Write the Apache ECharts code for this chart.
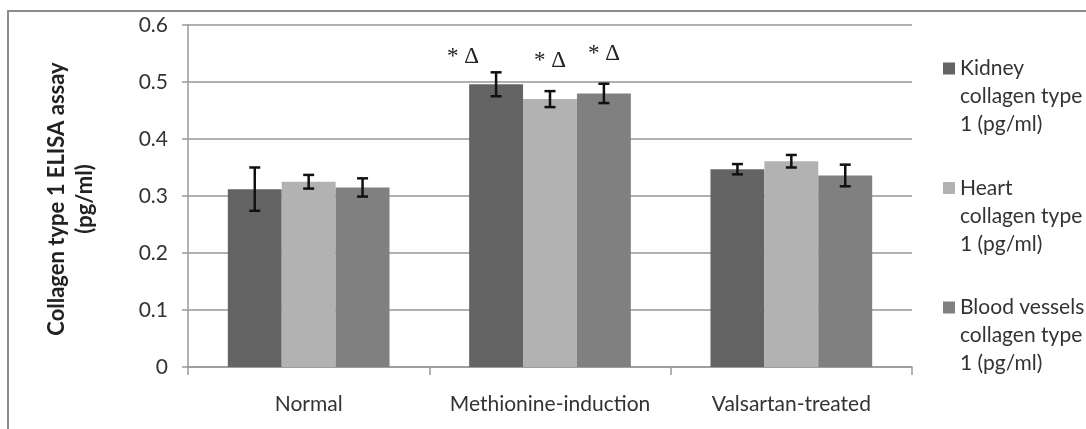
<!DOCTYPE html>
<html><head><meta charset="utf-8">
<script src="https://cdn.jsdelivr.net/npm/echarts@6/dist/echarts.min.js"></script>
<style>html,body{margin:0;padding:0;background:#fff}#c{width:1086px;height:429px}</style>
</head><body><div id="c"></div>
<script>
const categories = ['Normal', 'Methionine-induction', 'Valsartan-treated'];
const seriesNames = ['Kidney collagen type 1 (pg/ml)', 'Heart collagen type 1 (pg/ml)', 'Blood vessels collagen type 1 (pg/ml)'];
const legendLines = [['Kidney', 'collagen type', '1 (pg/ml)'], ['Heart', 'collagen type', '1 (pg/ml)'], ['Blood vessels', 'collagen type', '1 (pg/ml)']];
const yAxisTitle = 'Collagen type 1 ELISA assay\n(pg/ml)';
const kidney = [0.312, 0.496, 0.347];
const heart = [0.325, 0.470, 0.361];
const vessels = [0.315, 0.480, 0.336];
const kidneyErr = [0.038, 0.021, 0.009];
const heartErr = [0.012, 0.014, 0.011];
const vesselsErr = [0.016, 0.017, 0.019];
const yTicks = [0, 0.1, 0.2, 0.3, 0.4, 0.5, 0.6];
// significance marks over the Methionine-induction bars (kidney, heart, vessels)
const sigCategory = 1;
const sigText = ['* Δ', '* Δ', '* Δ'];
const sigY = [0.544, 0.537, 0.549];

const colors = ['#646464', '#b2b2b2', '#808080'];
const values = [kidney, heart, vessels];
const errs = [kidneyErr, heartErr, vesselsErr];
const CAT_GAP = 0.33;
const FONT = 'Lato, "Open Sans", sans-serif';
const LH = 28;

const chart = echarts.init(document.getElementById('c'), null, {renderer: 'canvas'});

function barCenter(api, catIdx, k) {
  const band = api.size([1, 0])[0];
  const barW = band * (1 - CAT_GAP) / 3;
  return api.coord([catIdx, 0])[0] + (k - 1) * barW;
}

// legend icon: 12x12 square aligned with the first text line of a 3-line block
const ICON_H = LH * 3;
const legendIcon = 'path://M0,0h0.01v0.01h-0.01Z M0,' + (LH / 2 - 6) + 'h12v12h-12Z M0,' + ICON_H + 'h0.01v-0.01h-0.01Z';

const series = [];
values.forEach((vals, k) => {
  series.push({
    name: seriesNames[k], type: 'bar', data: vals,
    barGap: '0%', barCategoryGap: (CAT_GAP * 100) + '%',
    itemStyle: {color: colors[k]}, z: 2, silent: true
  });
});
values.forEach((vals, k) => {
  series.push({
    name: 'err' + k, type: 'custom', z: 5, silent: true,
    data: vals.map((v, i) => [i, v - errs[k][i], v + errs[k][i]]),
    encode: {x: 0, y: [1, 2]},
    renderItem: function (params, api) {
      const i = api.value(0);
      const x = barCenter(api, i, k);
      const yl = api.coord([i, api.value(1)])[1];
      const yh = api.coord([i, api.value(2)])[1];
      const hw = 5.5;
      const st = {stroke: '#111', lineWidth: 2.5};
      return {type: 'group', children: [
        {type: 'line', shape: {x1: x, y1: yl, x2: x, y2: yh}, style: st},
        {type: 'line', shape: {x1: x - hw, y1: yl, x2: x + hw, y2: yl}, style: st},
        {type: 'line', shape: {x1: x - hw, y1: yh, x2: x + hw, y2: yh}, style: st}
      ]};
    }
  });
});
const sigDx = [-33, 0, 0];
series.push({
  name: 'sig', type: 'custom', z: 6, silent: true,
  data: sigY.map((y, k) => [sigCategory, y, k]),
  encode: {x: 0, y: 1},
  renderItem: function (params, api) {
    const i = api.value(0), k = api.value(2);
    const x = barCenter(api, i, k) + sigDx[k];
    const y = api.coord([i, api.value(1)])[1];
    return {type: 'text', x: x, y: y, style: {
      text: sigText[k], fill: '#222', font: '23px "Liberation Serif", "DejaVu Serif", serif',
      align: 'center', verticalAlign: 'middle'}};
  }
});

chart.setOption({
  animation: false,
  backgroundColor: '#fff',
  grid: {left: 188, right: 174, top: 25, bottom: 62, containLabel: false},
  graphic: [
    {type: 'rect', shape: {x: 8, y: 11, width: 1200, height: 600},
      style: {fill: 'none', stroke: '#8c8c8c', lineWidth: 2}, silent: true, z: -10},
    {type: 'text', x: 71, y: 199, rotation: Math.PI / 2, silent: true,
      style: {text: yAxisTitle, fill: '#222', font: 'bold 22px ' + FONT, lineHeight: 28,
        align: 'center', verticalAlign: 'middle'}}
  ],
  legend: {
    data: seriesNames, orient: 'vertical', left: 943, top: 54.5, padding: 0,
    icon: legendIcon, itemWidth: 12, itemHeight: ICON_H, itemGap: 35.5, selectedMode: false,
    formatter: function (name) {
      return legendLines[seriesNames.indexOf(name)].join('\n');
    },
    textStyle: {fontFamily: FONT, fontSize: 21, color: '#333', lineHeight: LH}
  },
  xAxis: {
    type: 'category', data: categories,
    axisLine: {lineStyle: {color: '#999', width: 1.5}},
    axisTick: {show: true, length: 8, lineStyle: {color: '#999', width: 1.5}},
    axisLabel: {fontFamily: FONT, fontSize: 21, color: '#333', margin: 27, interval: 0}
  },
  yAxis: {
    type: 'value', min: yTicks[0], max: yTicks[yTicks.length - 1], interval: yTicks[1] - yTicks[0],
    axisLine: {show: true, lineStyle: {color: '#999', width: 1.5}},
    axisTick: {show: true, length: 6, lineStyle: {color: '#999', width: 1.5}},
    axisLabel: {fontFamily: FONT, fontSize: 21, color: '#333', margin: 20,
      formatter: v => String(yTicks.find(t => Math.abs(t - v) < 1e-9) ?? v)},
    splitLine: {show: true, lineStyle: {color: '#b0b0b0', width: 2}}
  },
  series: series
});
</script></body></html>
